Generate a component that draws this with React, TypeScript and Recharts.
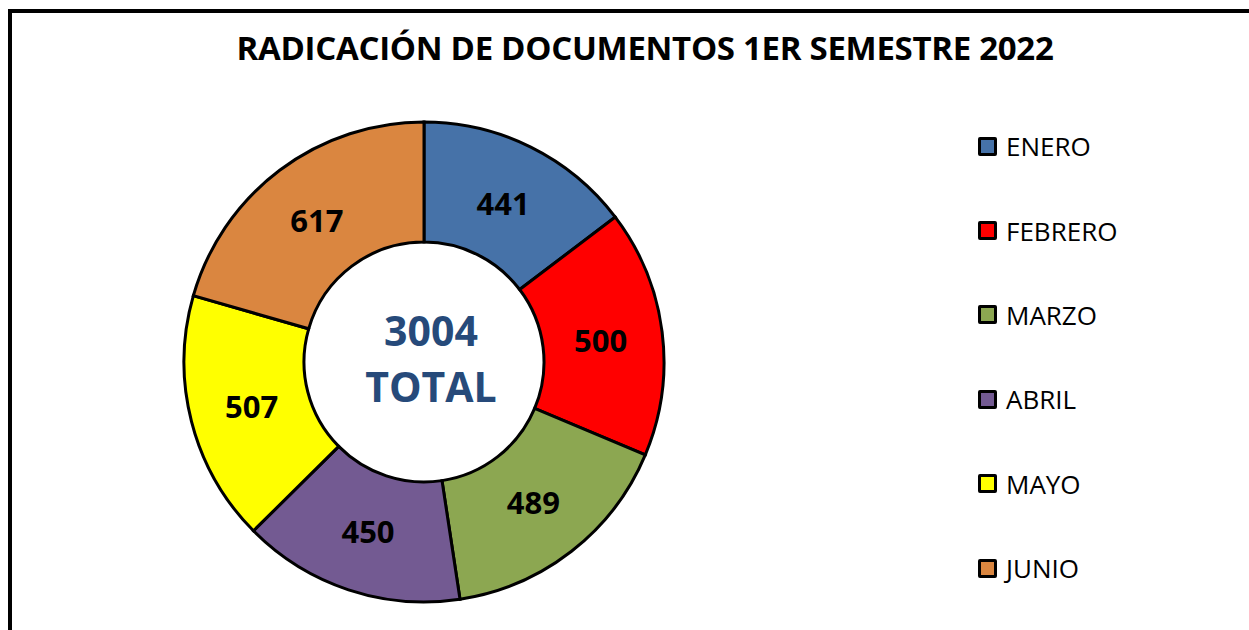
import { PieChart, Pie, Cell, Legend } from "recharts";

const MONTHS = ["ENERO", "FEBRERO", "MARZO", "ABRIL", "MAYO", "JUNIO"];
const VALUES = [441, 500, 489, 450, 507, 617];
const COLORS = ["#4672A8", "#FF0000", "#8CA751", "#735A92", "#FFFF00", "#DA8640"];
const TOTAL_LABEL = "3004";

const FONT = "'Open Sans', 'Liberation Sans', sans-serif";
const CX = 424;
const CY = 362;

const data = MONTHS.map((name, i) => ({ name, value: VALUES[i] }));

const RAD = Math.PI / 180;

function renderLabel(props: any) {
  const { cx, cy, midAngle, innerRadius, outerRadius, value } = props;
  const r = (innerRadius + outerRadius) / 2 - 2;
  const x = cx + r * Math.cos(-midAngle * RAD);
  const y = cy + r * Math.sin(-midAngle * RAD);
  return (
    <text
      x={x}
      y={y}
      textAnchor="middle"
      dominantBaseline="central"
      fill="#000"
      fontFamily={FONT}
      fontWeight={700}
      fontSize={31}
    >
      {value}
    </text>
  );
}

function LegendList() {
  // keep the original month order (the default legend sorts by name)
  return (
    <div style={{ fontFamily: FONT }}>
      {MONTHS.map((m, i) => (
        <div key={m} style={{ display: "flex", alignItems: "center", height: 84.4 }}>
          <span
            style={{
              display: "inline-block",
              width: 13,
              height: 13,
              background: COLORS[i],
              border: "3px solid #000",
              borderRadius: 2,
              marginRight: 9,
            }}
          />
          <span style={{ fontSize: 26, color: "#000" }}>{m}</span>
        </div>
      ))}
    </div>
  );
}

export default function App() {
  return (
    <div
      style={{
        position: "fixed",
        left: 0,
        top: 0,
        width: 1249,
        height: 630,
        overflow: "hidden",
        background: "#fff",
      }}
    >
      <div
        style={{
          position: "absolute",
          left: 8,
          top: 9,
          width: 1300,
          height: 700,
          border: "4px solid #000",
          boxSizing: "border-box",
        }}
      />
      <div
        style={{
          position: "absolute",
          left: 0,
          width: 1290,
          top: 25,
          textAlign: "center",
          fontFamily: FONT,
          fontWeight: 700,
          fontSize: 33,
          color: "#000",
          letterSpacing: -0.3,
        }}
      >
        RADICACIÓN DE DOCUMENTOS 1ER SEMESTRE 2022
      </div>
      <div style={{ position: "absolute", left: 0, top: 0 }}>
        <PieChart width={1249} height={630} margin={{ top: 0, right: 0, bottom: 0, left: 0 }}>
          <Pie
            data={data}
            dataKey="value"
            nameKey="name"
            cx={CX}
            cy={CY}
            innerRadius={120}
            outerRadius={240}
            startAngle={90}
            endAngle={-270}
            stroke="#000"
            strokeWidth={3}
            label={renderLabel}
            labelLine={false}
            isAnimationActive={false}
          >
            {data.map((d, i) => (
              <Cell key={d.name} fill={COLORS[i % COLORS.length]} />
            ))}
          </Pie>
          <Legend
            layout="vertical"
            content={<LegendList />}
            wrapperStyle={{ position: "absolute", left: 978, top: 104, width: 220 }}
          />
        </PieChart>
      </div>
      <div
        style={{
          position: "absolute",
          left: CX - 93,
          top: CY - 60,
          width: 200,
          textAlign: "center",
          fontFamily: FONT,
          fontWeight: 700,
          fontSize: 41,
          lineHeight: "56px",
          color: "#264A7A",
        }}
      >
        <div>{TOTAL_LABEL}</div>
        <div>TOTAL</div>
      </div>
    </div>
  );
}
